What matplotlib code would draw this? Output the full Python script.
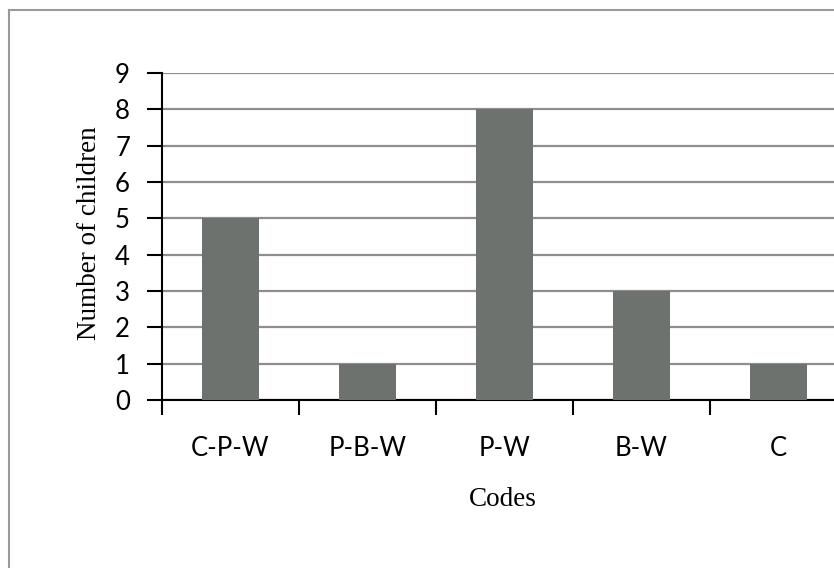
import matplotlib.pyplot as plt
from matplotlib.lines import Line2D

codes = ["C-P-W", "P-B-W", "P-W", "B-W", "C"]
children = [5, 1, 8, 3, 1]

W, H = 834, 568
fig = plt.figure(figsize=(W / 100, H / 100), dpi=100)

# outer chart border (only left and top visible in the crop)
fig.add_artist(Line2D([9 / W, 9 / W], [0, 1 - 10 / H], color="#9a9a9a", lw=1.5))
fig.add_artist(Line2D([9 / W, 1], [1 - 10 / H, 1 - 10 / H], color="#9a9a9a", lw=1.5))

# plot area runs past the right edge of the picture
x0, x1, ytop, ybot = 162, 847, 73, 400
ax = fig.add_axes([x0 / W, 1 - ybot / H, (x1 - x0) / W, (ybot - ytop) / H])

pos = [i + 0.5 for i in range(len(codes))]
ax.bar(pos, children, width=0.42, color="#6d726f", zorder=3)

ax.set_xlim(0, len(codes))
ax.set_ylim(0, 9)
ax.set_yticks(range(10))
ax.yaxis.grid(True, color="#8e8e8e", lw=1.6, zorder=0)
ax.set_axisbelow(True)

for s in ["top", "right"]:
    ax.spines[s].set_visible(False)
for s in ["left", "bottom"]:
    ax.spines[s].set_color("black")
    ax.spines[s].set_linewidth(1.5)

ax.set_xticks(range(len(codes) + 1))
ax.set_xticklabels([])
ax.set_xticks(pos, minor=True)
ax.set_xticklabels(codes, minor=True, fontsize=18.5, family="Lato")
ax.tick_params(axis="x", which="major", length=11, width=1.5, direction="out")
ax.tick_params(axis="x", which="minor", length=0, pad=26)
ax.tick_params(axis="y", length=11, width=1.5, pad=12, labelsize=18.5)
for t in ax.get_yticklabels():
    t.set_family("Lato")

fig.text(89 / W, 1 - 233 / H, "Number of children", rotation=90, ha="center",
         va="center", fontsize=19.5, family="Liberation Serif")
fig.text(503 / W, 1 - 499 / H, "Codes", ha="center", va="center",
         fontsize=19.5, family="Liberation Serif")

fig.savefig("out.png", dpi=100)
